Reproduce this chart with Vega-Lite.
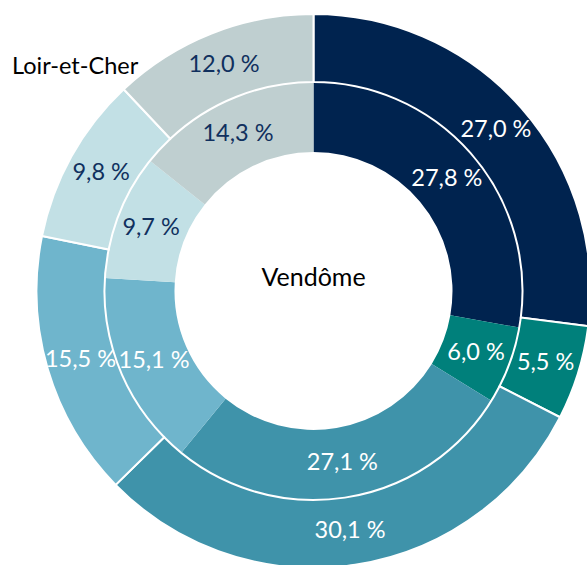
{
  "$schema": "https://vega.github.io/schema/vega-lite/v6.json",
  "width": 547,
  "height": 548,
  "autosize": "none",
  "padding": {"left": 40, "top": 17, "right": 0, "bottom": 0},
  "background": "white",
  "config": {"view": {"stroke": null}, "font": "Lato"},
  "title": {
    "text": "Loir-et-Cher",
    "anchor": "start",
    "frame": "group",
    "orient": "top",
    "offset": -80,
    "dx": -28,
    "baseline": "middle",
    "font": "Lato",
    "fontSize": 23.5,
    "fontWeight": "normal",
    "color": "#000000"
  },
  "data": {
    "values": [
      {"ring": "Loir-et-Cher", "cat": "c1", "ord": 1, "value": 27.0},
      {"ring": "Loir-et-Cher", "cat": "c2", "ord": 2, "value": 5.5},
      {"ring": "Loir-et-Cher", "cat": "c3", "ord": 3, "value": 30.1},
      {"ring": "Loir-et-Cher", "cat": "c4", "ord": 4, "value": 15.5},
      {"ring": "Loir-et-Cher", "cat": "c5", "ord": 5, "value": 9.8},
      {"ring": "Loir-et-Cher", "cat": "c6", "ord": 6, "value": 12.0},
      {"ring": "Vendôme", "cat": "c1", "ord": 1, "value": 27.8},
      {"ring": "Vendôme", "cat": "c2", "ord": 2, "value": 6.0},
      {"ring": "Vendôme", "cat": "c3", "ord": 3, "value": 27.1},
      {"ring": "Vendôme", "cat": "c4", "ord": 4, "value": 15.1},
      {"ring": "Vendôme", "cat": "c5", "ord": 5, "value": 9.7},
      {"ring": "Vendôme", "cat": "c6", "ord": 6, "value": 14.3}
    ]
  },
  "transform": [
    {"calculate": "replace(format(datum.value, '.1f'), '.', ',') + ' %'", "as": "label"}
  ],
  "layer": [
    {
      "transform": [{"filter": "datum.ring === 'Vendôme'"}],
      "encoding": {
        "theta": {"field": "value", "type": "quantitative", "stack": true},
        "order": {"field": "ord", "type": "quantitative"}
      },
      "layer": [
        {
          "mark": {"type": "arc", "innerRadius": 139, "outerRadius": 209},
          "encoding": {
            "color": {
              "field": "cat",
              "type": "nominal",
              "legend": null,
              "scale": {
                "domain": ["c1", "c2", "c3", "c4", "c5", "c6"],
                "range": ["#00234F", "#00807B", "#3F93AA", "#6FB5CC", "#C2E0E5", "#BFCFD0"]
              }
            }
          }
        },
        {
          "mark": {"type": "text", "radius": 174, "fontSize": 23.5, "font": "Lato"},
          "encoding": {
            "text": {"field": "label"},
            "color": {"condition": {"test": "datum.ord <= 4", "value": "#FFFFFF"}, "value": "#10305E"}
          }
        }
      ]
    },
    {
      "transform": [{"filter": "datum.ring === 'Loir-et-Cher'"}],
      "encoding": {
        "theta": {"field": "value", "type": "quantitative", "stack": true},
        "order": {"field": "ord", "type": "quantitative"}
      },
      "layer": [
        {
          "mark": {"type": "arc", "innerRadius": 209, "outerRadius": 277, "stroke": "#FFFFFF", "strokeWidth": 2},
          "encoding": {
            "color": {"field": "cat", "type": "nominal", "legend": null}
          }
        },
        {
          "mark": {"type": "text", "radius": 243, "fontSize": 23.5, "font": "Lato"},
          "encoding": {
            "text": {"field": "label"},
            "color": {"condition": {"test": "datum.ord <= 4", "value": "#FFFFFF"}, "value": "#10305E"}
          }
        }
      ]
    },
    {
      "data": {"values": [{"name": "Vendôme"}]},
      "transform": [],
      "mark": {"type": "text", "dy": -13, "fontSize": 25, "font": "Lato", "color": "#000000"},
      "encoding": {"text": {"field": "name"}}
    }
  ],
  "resolve": {"scale": {"theta": "independent"}}
}
